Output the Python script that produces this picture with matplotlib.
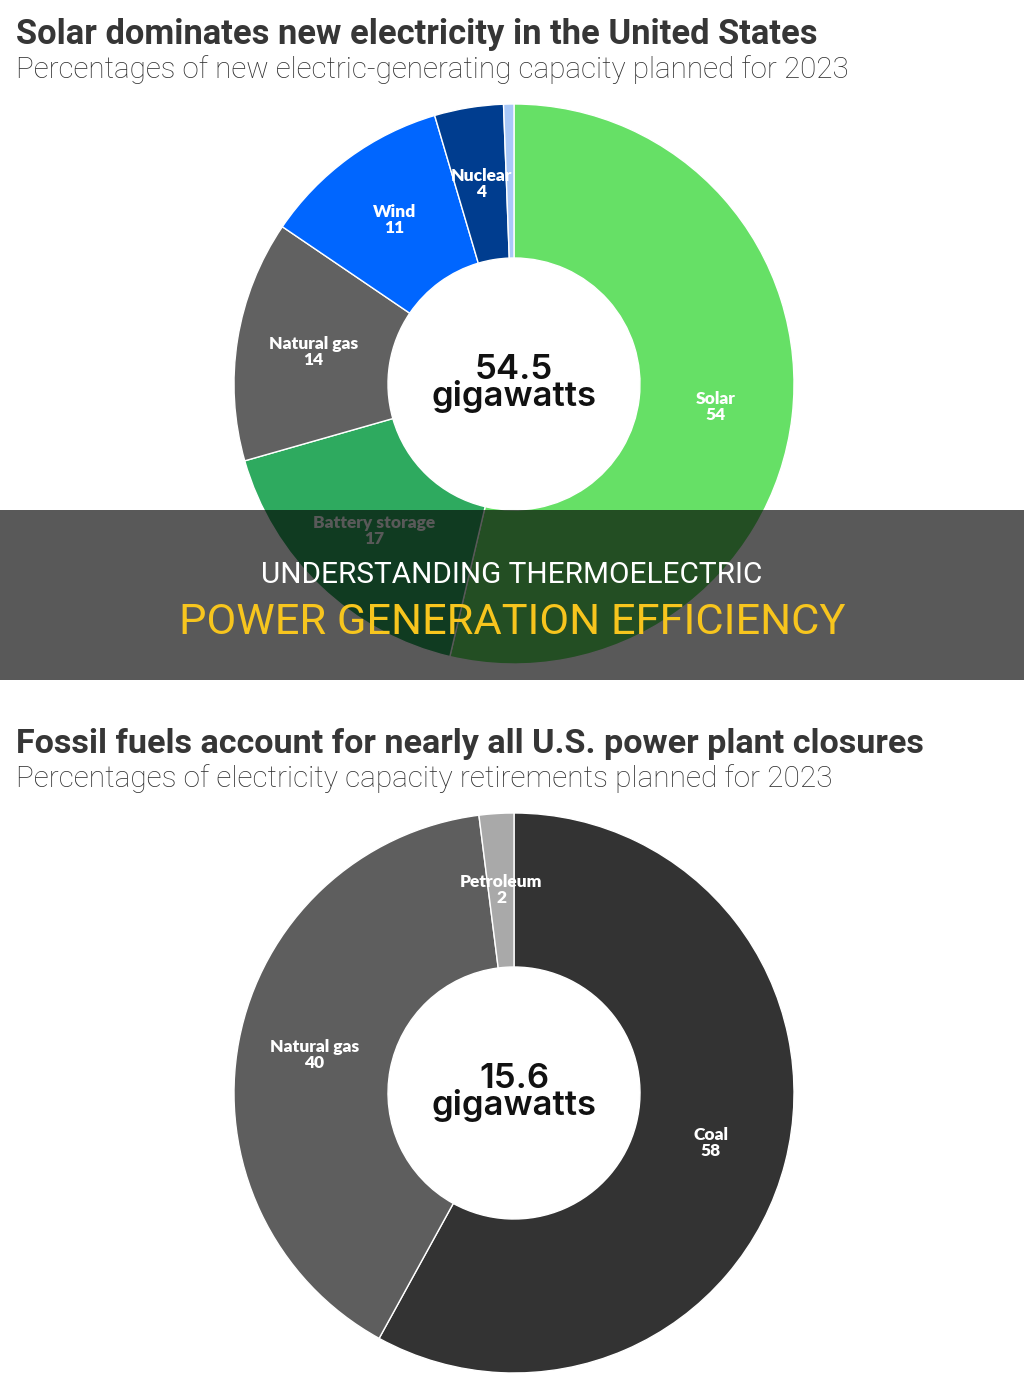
import matplotlib
matplotlib.use("Agg")
import matplotlib.pyplot as plt
from matplotlib.patches import Rectangle

W, H, DPI = 1024, 1395, 100

# ---------------- data ----------------
top_title = "Solar dominates new electricity in the United States"
top_subtitle = "Percentages of new electric-generating capacity planned for 2023"
top_total = "54.5"
top_names = ["Solar", "Battery storage", "Natural gas", "Wind", "Nuclear", ""]
top_values = [54, 17, 14, 11, 4, 0.6]
top_colors = ["#66e066", "#2eaa5f", "#616161", "#0066ff", "#003d8f", "#a9c8f7"]

bot_title = "Fossil fuels account for nearly all U.S. power plant closures"
bot_subtitle = "Percentages of electricity capacity retirements planned for 2023"
bot_total = "15.6"
bot_names = ["Coal", "Natural gas", "Petroleum"]
bot_values = [58, 40, 2]
bot_colors = ["#333333", "#5e5e5e", "#a9a9a9"]

unit = "gigawatts"
banner_line1 = "UNDERSTANDING THERMOELECTRIC"
banner_line2 = "POWER GENERATION EFFICIENCY"

# ---------------- figure ----------------
fig = plt.figure(figsize=(W / DPI, H / DPI), dpi=DPI, facecolor="white")
renderer = fig.canvas.get_renderer()

bg = fig.add_axes([0, 0, 1, 1], zorder=0)
bg.set_xlim(0, W); bg.set_ylim(H, 0); bg.axis("off")

ov = fig.add_axes([0, 0, 1, 1], zorder=10)
ov.set_xlim(0, W); ov.set_ylim(H, 0); ov.axis("off"); ov.patch.set_alpha(0)


def fit_width(t, target):
    w = t.get_window_extent(renderer).width
    t.set_fontsize(t.get_fontsize() * target / w)


def title_block(ax, title, subtitle, y_title, y_sub, w_title, w_sub):
    t1 = ax.text(16, y_title, title, ha="left", va="baseline", color="#363636",
                 fontsize=20, fontweight="bold", family=["Roboto", "DejaVu Sans"])
    fit_width(t1, w_title)
    t2 = ax.text(16, y_sub, subtitle, ha="left", va="baseline", color="#2f2f2f",
                 fontsize=18, fontweight="light", family=["Roboto", "DejaVu Sans"])
    fit_width(t2, w_sub)


title_block(bg, top_title, top_subtitle, 44, 78, 800, 832)
title_block(bg, bot_title, bot_subtitle, 753, 787, 908, 814)


def donut(cx, cy, R, r_in, values, names, colors, total):
    ax = fig.add_axes([(cx - R) / W, (H - cy - R) / H, 2 * R / W, 2 * R / H], zorder=1)
    labels = [f"{n}\n{v}" if n else "" for n, v in zip(names, values)]
    wedges, texts = ax.pie(values, labels=labels, colors=colors, startangle=90,
                           counterclock=False, radius=1,
                           labeldistance=(1 + r_in / R) / 2,
                           wedgeprops=dict(width=1 - r_in / R, edgecolor="white",
                                           linewidth=1.0))
    for t in texts:
        t.set(ha="center", va="center", color="white", fontsize=12.5,
              fontweight="heavy", family=["Lato", "DejaVu Sans"], linespacing=1.0)
    ax.set_xlim(-1, 1); ax.set_ylim(-1, 1); ax.set_aspect("equal")
    ax.axis("off")
    ax.text(0, -22 / R, f"{total}\n{unit}", ha="center", va="baseline",
            color="#111111", fontsize=25, fontweight="semibold",
            family=["Inter", "DejaVu Sans"], linespacing=0.78)
    return ax


donut(514, 384, 280, 126, top_values, top_names, top_colors, top_total)
donut(514, 1093, 280, 126, bot_values, bot_names, bot_colors, bot_total)

# ---------------- banner overlay ----------------
ov.add_patch(Rectangle((0, 510), W, 170, facecolor="black", alpha=0.65,
                       edgecolor="none"))
b1 = ov.text(W / 2, 583, banner_line1, ha="center", va="baseline", color="white",
             fontsize=22, family=["Roboto", "Liberation Sans", "DejaVu Sans"])
fit_width(b1, 500)
b2 = ov.text(W / 2, 634, banner_line2, ha="center", va="baseline", color="#f7c51e",
             fontsize=28, family=["Roboto", "Liberation Sans", "DejaVu Sans"])
fit_width(b2, 667)

fig.savefig("out.png", dpi=DPI, facecolor="white")
